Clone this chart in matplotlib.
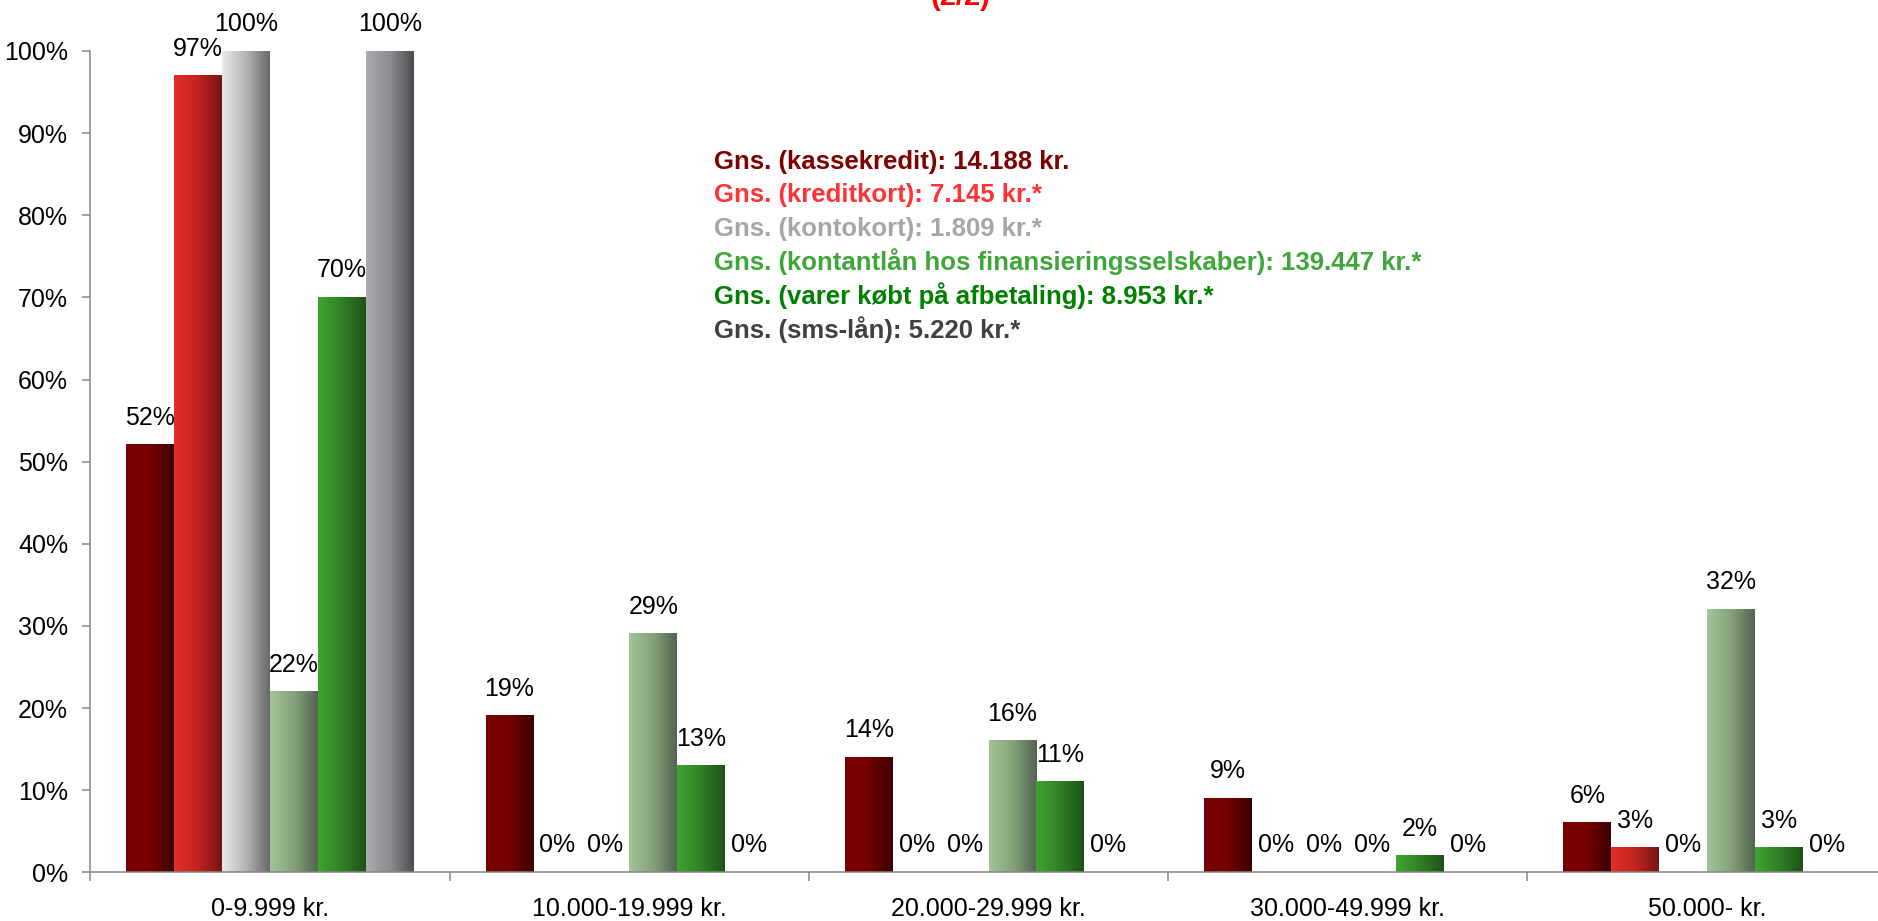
import numpy as np
import matplotlib
matplotlib.use("Agg")
import matplotlib.pyplot as plt
from matplotlib.colors import LinearSegmentedColormap

plt.rcParams['font.family'] = ['Liberation Sans', 'DejaVu Sans']

# data
categories = ["0-9.999 kr.", "10.000-19.999 kr.", "20.000-29.999 kr.",
              "30.000-49.999 kr.", "50.000- kr."]
kassekredit = [52, 19, 14, 9, 6]
kreditkort = [97, 0, 0, 0, 3]
kontokort = [100, 0, 0, 0, 0]
kontantlaan = [22, 29, 16, 0, 32]
varer = [70, 13, 11, 2, 3]
sms_laan = [100, 0, 0, 0, 0]
series = [kassekredit, kreditkort, kontokort, kontantlaan, varer, sms_laan]

avg_lines = [
    "Gns. (kassekredit): 14.188 kr.",
    "Gns. (kreditkort): 7.145 kr.*",
    "Gns. (kontokort): 1.809 kr.*",
    "Gns. (kontantlån hos finansieringsselskaber): 139.447 kr.*",
    "Gns. (varer købt på afbetaling): 8.953 kr.*",
    "Gns. (sms-lån): 5.220 kr.*",
]
yticks = [0, 10, 20, 30, 40, 50, 60, 70, 80, 90, 100]

# styles: horizontal gradient left -> right for each series
grad_stops = [
    ["#7a0000", "#740000", "#3c0000"],
    ["#e62d27", "#c02420", "#771414"],
    ["#eaeaea", "#b4b4b4", "#696969"],
    ["#a3c597", "#85a27b", "#526450"],
    ["#40a430", "#308026", "#1d5217"],
    ["#abacb1", "#8c8d91", "#4b4c4f"],
]
text_colors = ["#7f0000", "#ff3333", "#a6a6a6", "#3fa63a", "#008000", "#404040"]
axis_gray = "#868686"

W, H = 1878, 921
fig = plt.figure(figsize=(W / 100, H / 100), dpi=100)
ax = fig.add_axes([90.3 / W, (H - 872.3) / H, 1796.5 / W, 821.3 / H])

x = np.arange(len(categories))
bw = 0.8 / len(series)
grad = np.linspace(0, 1, 256).reshape(1, -1)

for i, vals in enumerate(series):
    bars = ax.bar(x + (i - 2.5) * bw, vals, bw, color="none", linewidth=0)
    cmap = LinearSegmentedColormap.from_list(f"s{i}", grad_stops[i])
    for b, v in zip(bars, vals):
        if v > 0:
            x0 = b.get_x()
            ax.imshow(grad, cmap=cmap, aspect="auto", interpolation="bilinear",
                      extent=(x0, x0 + b.get_width(), 0, b.get_height()), zorder=2)
        ax.annotate(f"{v}%", (b.get_x() + b.get_width() / 2, v), xytext=(0, 14.4),
                    textcoords="offset points", ha="center", va="baseline",
                    fontsize=18, color="#000000", annotation_clip=False)

ax.set_xlim(-0.5, len(categories) - 0.5)
ax.set_ylim(0, 100)
ax.set_yticks(yticks)
ax.set_yticklabels([f"{t}%" for t in yticks], fontsize=18)
ax.set_xticks(x)
ax.set_xticklabels(categories, fontsize=18)
ax.set_xticks(np.arange(-0.5, len(categories), 1.0), minor=True)
ax.tick_params(axis="x", which="major", length=0, pad=18)
ax.tick_params(axis="x", which="minor", length=6.5, width=1.1, color=axis_gray)
ax.tick_params(axis="y", length=5.5, width=1.1, color=axis_gray, pad=10.5)
for s in ["top", "right"]:
    ax.spines[s].set_visible(False)
for s in ["left", "bottom"]:
    ax.spines[s].set_color(axis_gray)
    ax.spines[s].set_linewidth(1.1)

# title, cropped at the very top like in the source
fig.text(960 / W, 1 - 5 / H, "(2/2)", color="#ff0000", fontweight="bold",
         fontsize=21, ha="center", va="baseline")

# average amounts
for k, (line, c) in enumerate(zip(avg_lines, text_colors)):
    fig.text(714 / W, 1 - (168.5 + 33.9 * k) / H, line, color=c,
             fontweight="bold", fontsize=18.5, ha="left", va="baseline")

fig.savefig("out.png", dpi=100)
